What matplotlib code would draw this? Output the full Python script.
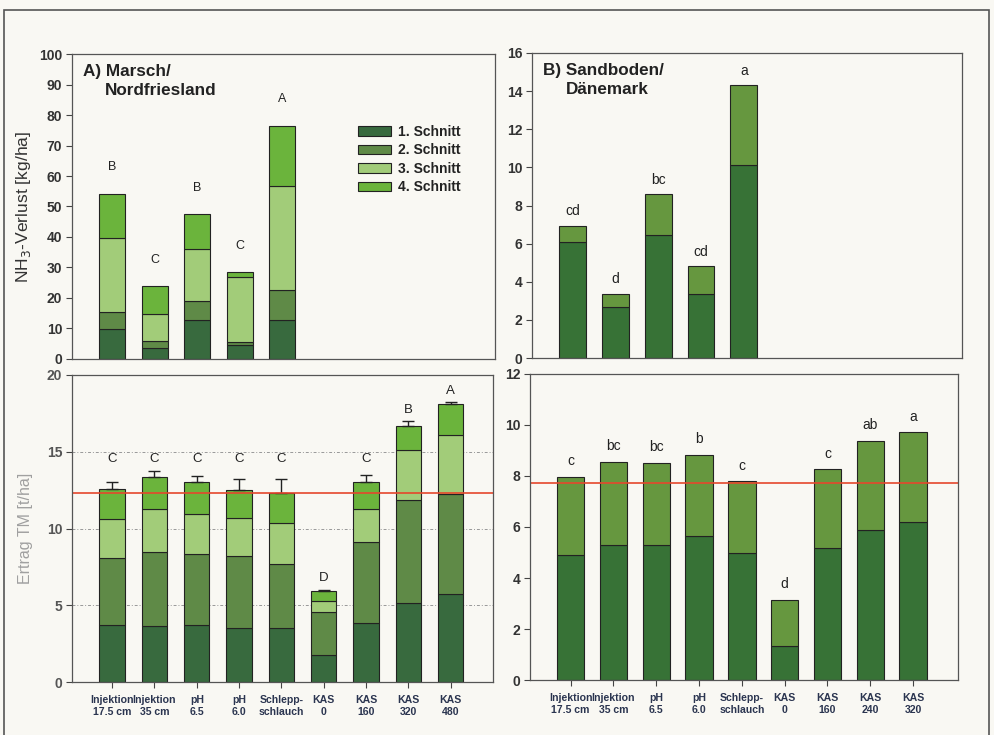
import matplotlib.pyplot as plt
import numpy as np
from matplotlib.patches import Rectangle

plt.rcParams['font.family'] = ['Liberation Sans', 'DejaVu Sans']

# categories (shared x axis of all four panels)
cats_left = ['Injektion\n17.5 cm', 'Injektion\n35 cm', 'pH\n6.5', 'pH\n6.0', 'Schlepp-\nschlauch',
             'KAS\n0', 'KAS\n160', 'KAS\n320', 'KAS\n480']
cats_right = ['Injektion\n17.5 cm', 'Injektion\n35 cm', 'pH\n6.5', 'pH\n6.0', 'Schlepp-\nschlauch',
              'KAS\n0', 'KAS\n160', 'KAS\n240', 'KAS\n320']
schnitte = ['1. Schnitt', '2. Schnitt', '3. Schnitt', '4. Schnitt']

# A) NH3 loss, Marsch (per-cut values)
nh3_a_s1 = [9.8, 3.6, 12.9, 4.6, 12.9]
nh3_a_s2 = [5.6, 2.4, 6.1, 0.9, 9.8]
nh3_a_s3 = [24.4, 8.6, 17.0, 21.4, 34.1]
nh3_a_s4 = [14.3, 9.2, 11.5, 1.6, 19.7]
nh3_a_sig = ['B', 'C', 'B', 'C', 'A']

# B) NH3 loss, Sandboden
nh3_b_s1 = [6.1, 2.65, 6.46, 3.37, 10.12]
nh3_b_s2 = [0.85, 0.72, 2.14, 1.46, 4.18]
nh3_b_sig = ['cd', 'd', 'bc', 'cd', 'a']

# A) yield, Marsch
yld_a_s1 = [3.74, 3.65, 3.74, 3.54, 3.54, 1.78, 3.87, 5.17, 5.76]
yld_a_s2 = [4.36, 4.83, 4.63, 4.68, 4.16, 2.76, 5.26, 6.68, 6.46]
yld_a_s3 = [2.55, 2.82, 2.59, 2.45, 2.63, 0.76, 2.17, 3.24, 3.87]
yld_a_s4 = [1.95, 2.03, 2.04, 1.87, 1.97, 0.61, 1.74, 1.61, 2.04]
yld_a_err = [0.4, 0.41, 0.41, 0.66, 0.9, 0.11, 0.44, 0.3, 0.11]
yld_a_sig = ['C', 'C', 'C', 'C', 'C', 'D', 'C', 'B', 'A']
yld_a_ref = 12.3

# B) yield, Sandboden
yld_b_s1 = [4.9, 5.31, 5.31, 5.63, 4.97, 1.35, 5.18, 5.9, 6.21]
yld_b_s2 = [3.05, 3.25, 3.2, 3.19, 2.82, 1.79, 3.08, 3.49, 3.5]
yld_b_sig = ['c', 'bc', 'bc', 'b', 'c', 'd', 'c', 'ab', 'a']
yld_b_ref = 7.73

colors = ['#386a3e', '#5f8a47', '#a2cc79', '#6bb43c']
colors_b = ['#377236', '#66973f']
edge = '#222222'
tick_col = '#333333'
bg = '#f9f8f3'

fig = plt.figure(figsize=(9.94, 7.35), dpi=100, facecolor=bg)
ax_tl = fig.add_axes([0.0724, 0.5116, 0.4256, 0.4149])
ax_tr = fig.add_axes([0.5352, 0.5129, 0.4326, 0.415])
ax_bl = fig.add_axes([0.0724, 0.0721, 0.4236, 0.4177])
ax_br = fig.add_axes([0.5332, 0.0748, 0.4306, 0.4164])

fig.patches.append(Rectangle((0.004, -0.01), 0.991, 0.996, transform=fig.transFigure,
                             fill=False, edgecolor='#555555', lw=1.2))


def stacked(ax, segs, cols, width):
    x = np.arange(len(segs[0]))
    bottom = np.zeros(len(x))
    for vals, c, lab in zip(segs, cols, schnitte):
        ax.bar(x, vals, width, bottom=bottom, color=c, edgecolor=edge, linewidth=0.8, label=lab)
        bottom = bottom + np.array(vals)
    return x, bottom


def style(ax, ymax, ystep, xmax, show_x, labels=None, ytick_col=tick_col):
    ax.set_facecolor(bg)
    ax.set_xlim(-0.95, xmax)
    ax.set_ylim(0, ymax)
    ax.set_yticks(np.arange(0, ymax + 0.01, ystep))
    ax.tick_params(axis='y', direction='out', length=4, width=0.8, labelsize=10,
                   colors='#444444', labelcolor=ytick_col, pad=3)
    for lab in ax.get_yticklabels():
        lab.set_fontweight('bold')
    for s in ax.spines.values():
        s.set_color('#555555')
        s.set_linewidth(0.9)
    if show_x:
        ax.set_xticks(np.arange(9))
        ax.set_xticklabels(labels, fontsize=7.6, fontweight='bold', color='#2b3550', linespacing=1.3)
        ax.tick_params(axis='x', direction='out', length=4, width=0.8, colors='#444444',
                       labelcolor='#2b3550', pad=5)
    else:
        ax.set_xticks([])


def panel_title(ax, line1, line2):
    ax.text(0.026, 0.966, line1, transform=ax.transAxes, fontsize=12.3,
            fontweight='bold', va='top', color='#222222')
    ax.text(0.078, 0.905, line2, transform=ax.transAxes, fontsize=12.3,
            fontweight='bold', va='top', color='#222222')


# Top left
x, tot = stacked(ax_tl, [nh3_a_s1, nh3_a_s2, nh3_a_s3, nh3_a_s4], colors, 0.61)
for xi, t, s in zip(x, tot, nh3_a_sig):
    ax_tl.text(xi, t + 8.7, s, ha='center', va='center', fontsize=9, color='#222222')
style(ax_tl, 100, 10, 9.0, False)
ax_tl.set_ylabel('NH$_3$-Verlust [kg/ha]', fontsize=12.6, color='#333333', labelpad=4)
panel_title(ax_tl, 'A) Marsch/', 'Nordfriesland')
leg = ax_tl.legend(loc='upper left', bbox_to_anchor=(0.66, 0.79), frameon=False,
                   fontsize=10, handlelength=2.4, handleheight=0.7, labelspacing=0.32,
                   handletextpad=0.5, borderpad=0)
for t in leg.get_texts():
    t.set_fontweight('bold')
    t.set_color('#222222')

# Top right
x, tot = stacked(ax_tr, [nh3_b_s1, nh3_b_s2], colors_b, 0.63)
for xi, t, s in zip(x, tot, nh3_b_sig):
    ax_tr.text(xi, t + 0.75, s, ha='center', va='center', fontsize=10, color='#222222')
style(ax_tr, 16, 2, 9.1, False)
panel_title(ax_tr, 'B) Sandboden/', 'Dänemark')

# Bottom left
for g in [5, 10, 15]:
    ax_bl.axhline(g, color='#999999', lw=0.7, ls=(0, (3, 2, 1, 2)), zorder=0)
x, tot = stacked(ax_bl, [yld_a_s1, yld_a_s2, yld_a_s3, yld_a_s4], colors, 0.6)
ax_bl.errorbar(x, tot, yerr=[np.zeros(len(x)), yld_a_err], fmt='none', ecolor='#222222',
               elinewidth=1, capsize=4, capthick=1)
err_top = tot + np.array(yld_a_err)
for xi, t, s in zip(x, err_top, yld_a_sig):
    ax_bl.text(xi, max(t + 0.75, 14.5) if s == 'C' else t + 0.75, s, ha='center', va='center',
               fontsize=9.5, color='#222222')
ax_bl.axhline(yld_a_ref, color='#e5472c', lw=1.2)
style(ax_bl, 20, 5, 9.0, True, cats_left, ytick_col='#555555')
ax_bl.set_ylabel('Ertrag TM [t/ha]', fontsize=11.5, color='#a0a0a0', labelpad=10)

# Bottom right
x, tot = stacked(ax_br, [yld_b_s1, yld_b_s2], colors_b, 0.64)
for xi, t, s in zip(x, tot, yld_b_sig):
    ax_br.text(xi, t + 0.62, s, ha='center', va='center', fontsize=10, color='#222222')
ax_br.axhline(yld_b_ref, color='#e5472c', lw=1.2)
style(ax_br, 12, 2, 9.05, True, cats_right)

fig.savefig('out.png', dpi=100, facecolor=bg)
